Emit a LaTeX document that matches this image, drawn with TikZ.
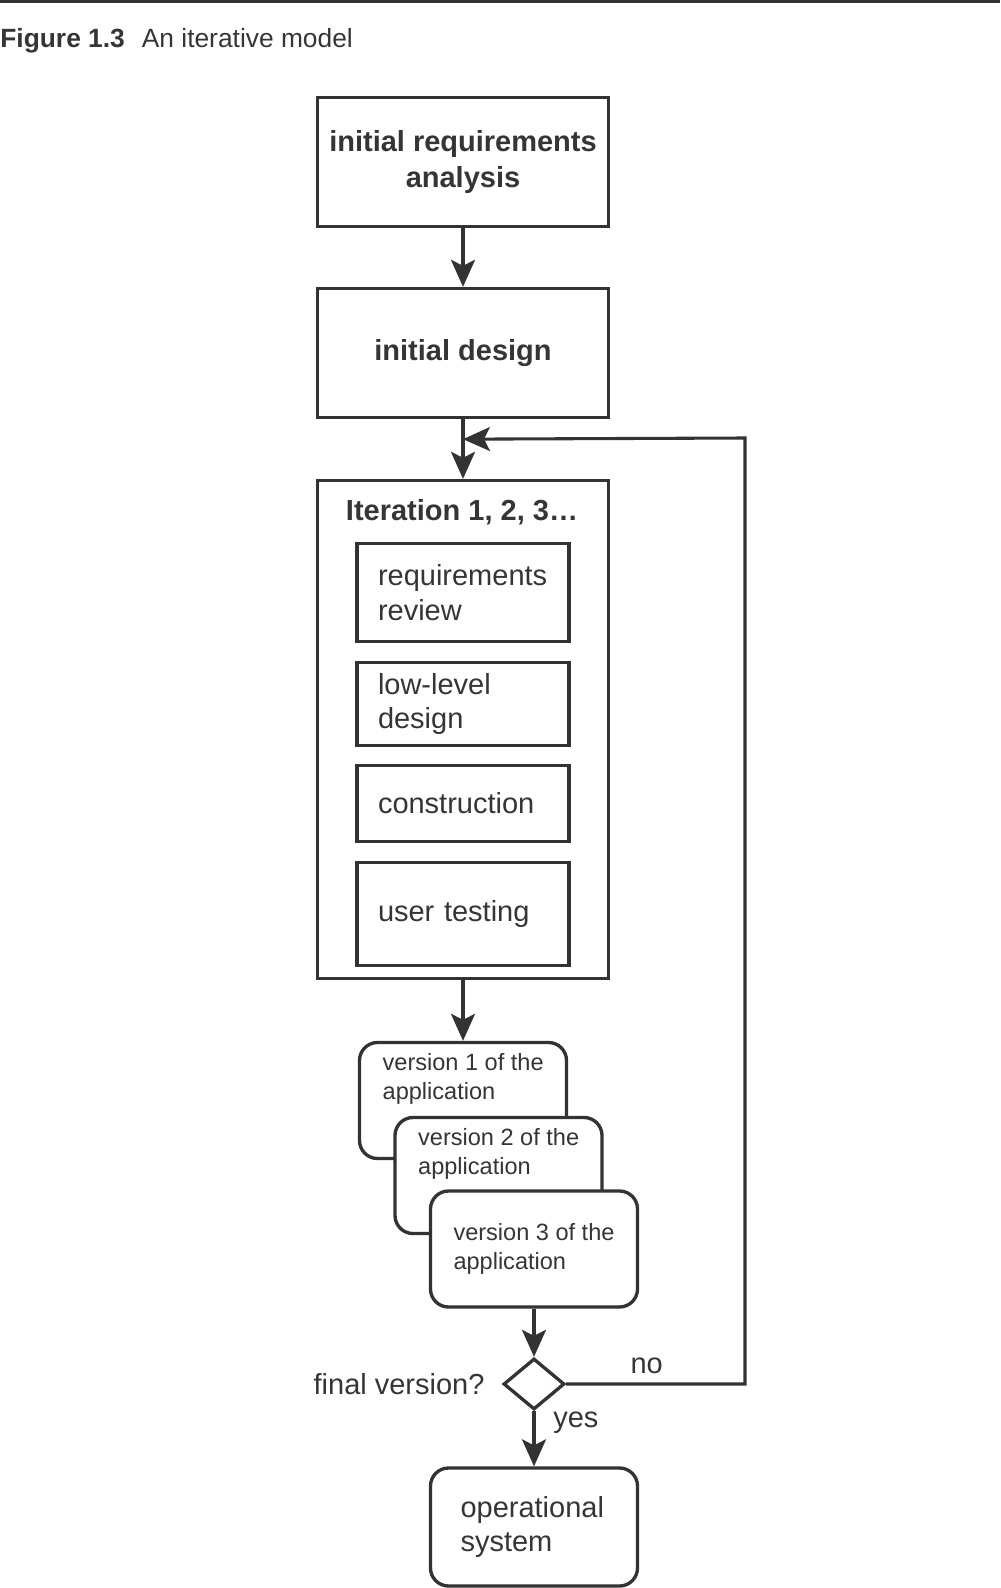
\documentclass[tikz,border=0pt]{standalone}
\usepackage{fontspec}
\setmainfont{Liberation Sans}
\usetikzlibrary{shapes, arrows.meta, positioning}
\definecolor{grisTrazo}{HTML}{333333}
\definecolor{grisTexto}{HTML}{353535}

\begin{document}
\begin{tikzpicture}[
  % Estilos de nodos
  nodoPaso/.style={
    rectangle, draw=grisTrazo, line width=1.9pt,
    font=\fontsize{16.5}{20}\selectfont\bfseries, text=grisTexto,
    align=center, minimum width=5.82cm, minimum height=2.58cm
  },
  nodoIteracion/.style={
    rectangle, draw=grisTrazo, line width=1.9pt,
    minimum width=5.82cm, minimum height=9.96cm
  },
  nodoTarea/.style={
    rectangle, draw=grisTrazo, line width=1.9pt,
    font=\fontsize{16.5}{19.8}\selectfont, text=grisTexto,
    text width=3.40cm, align=left, inner xsep=0.42cm
  },
  nodoVersion/.style={
    rectangle, rounded corners=0.36cm,
    draw=grisTrazo, fill=white, line width=1.9pt,
    minimum width=4.14cm, minimum height=2.32cm
  },
  nodoFinal/.style={
    rectangle, rounded corners=0.36cm,
    draw=grisTrazo, line width=1.9pt,
    font=\fontsize{16.5}{19.8}\selectfont, text=grisTexto,
    text width=2.94cm, align=left, inner xsep=0.6cm,
    minimum height=2.36cm
  },
  nodoDecision/.style={
    diamond, draw=grisTrazo, line width=1.9pt,
    minimum width=1.22cm, minimum height=1.02cm, inner sep=0pt
  },
  % Estilos de texto
  etiqVersion/.style={
    font=\fontsize{13.4}{16.4}\selectfont, text=grisTexto,
    align=left, inner sep=0pt
  },
  etiqRama/.style={
    font=\fontsize{16.5}{19.8}\selectfont, text=grisTexto, inner sep=0pt
  },
  % Estilo de flechas
  flecha/.style={
    -{Stealth[length=0.54cm, width=0.48cm, inset=0.12cm]},
    line width=1.75pt, draw=grisTrazo
  }
]

\useasboundingbox (0,0) rectangle (20,-31.76);

% --- Titulo ---
\draw[line width=0.07cm, grisTrazo] (0,-0.03) -- (20,-0.03);
\node[anchor=west, inner sep=0pt, text=grisTexto,
  font=\fontsize{15}{18}\selectfont]
  (titulo) at (0,-0.82) {\textbf{Figure 1.3}\hspace{0.34cm}An iterative model};

% --- Analisis y diseno inicial ---
\node[nodoPaso] (analisis) at (9.26,-3.24) {initial requirements\\analysis};
\node[nodoPaso] (disenio)  at (9.26,-7.06) {initial design};

% --- Iteracion ---
\node[nodoIteracion] (iteracion) at (9.26,-14.59) {};
\node[font=\fontsize{16.5}{20}\selectfont\bfseries, text=grisTexto]
  (tituloIter) at (9.24,-10.24) {Iteration 1, 2, 3…};

\node[nodoTarea, minimum height=1.95cm] (revision)     at (9.26,-11.85) {requirements\\review};
\node[nodoTarea, minimum height=1.65cm] (bajoNivel)    at (9.26,-14.08) {low-level\\design};
\node[nodoTarea, minimum height=1.51cm] (construccion) at (9.26,-16.07) {construction};
\node[nodoTarea, minimum height=2.05cm] (pruebas)      at (9.26,-18.28) {user testing};

% --- Versiones (apiladas) ---
\node[nodoVersion] (v1) at (9.26,-22.01) {};
\node[etiqVersion, below right=0.24cm and 0.49cm of v1.north west]
  (v1texto) {version 1 of the\\application};
\node[nodoVersion] (v2) at (9.97,-23.51) {};
\node[etiqVersion, below right=0.24cm and 0.49cm of v2.north west]
  (v2texto) {version 2 of the\\application};
\node[nodoVersion, etiqVersion] (v3) at (10.68,-24.98) {version 3 of the\\application};

% --- Decision y sistema final ---
\node[nodoDecision] (decision) at (10.68,-27.68) {};
\node[etiqRama, left=0.34cm of decision] (pregunta) {final version?};
\node[etiqRama, above right=0.2cm and 1.28cm of decision.east] (etiqNo) {no};
\node[etiqRama, below right=0cm and 0.38cm of decision.south] (etiqSi) {yes};

\node[nodoFinal] (operacional) at (10.68,-30.54) {operational\\system};

% --- Flechas ---
\coordinate[below=0.4cm of disenio.south] (junta);
\coordinate (retorno) at (14.90,-8.76);

\draw[flecha] (analisis) -- (disenio);
\draw[flecha] (disenio) -- (iteracion);
\draw[flecha] (iteracion) -- (v1);
\draw[flecha] (v3) -- (decision);
\draw[flecha] (decision) -- (operacional);
\draw[flecha] (decision.east) -| (retorno) -- (junta);

\end{tikzpicture}
\end{document}
